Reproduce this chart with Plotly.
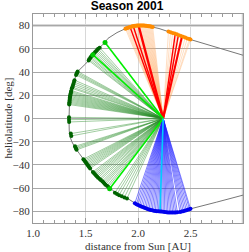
import plotly.graph_objects as go

# ---------------- data ----------------
orbit_x = [3.00, 2.70, 2.50, 2.40, 2.30, 2.20, 2.10, 2.02, 1.95, 1.886, 1.80, 1.714, 1.686,
           1.61, 1.53, 1.50, 1.42, 1.40, 1.385, 1.365, 1.35, 1.345, 1.343, 1.345, 1.35, 1.37,
           1.40, 1.44, 1.48, 1.52, 1.56, 1.61, 1.67, 1.73, 1.80, 1.905, 1.97, 2.05, 2.13,
           2.21, 2.30, 2.38, 2.44, 2.50, 2.75, 3.00]
orbit_lat = [54.5, 62.5, 68, 71.5, 74.5, 77.5, 79.5, 80.2, 79.5, 77.6, 74, 69, 65.5,
             59, 50, 47, 40, 35, 30, 25, 20, 10, 0, -10, -15, -20,
             -25, -30, -35, -40, -45, -50, -55, -60, -65, -69, -73, -76.5, -79,
             -80, -81, -80.8, -79.5, -77.8, -72, -66]

focus_x = [2.24]
focus_lat = [0.0]

# dark green group
green_x = [1.635, 1.62, 1.61, 1.60, 1.59, 1.58, 1.57, 1.56, 1.55, 1.545, 1.535, 1.53,
           1.425, 1.42, 1.415, 1.41,
           1.395, 1.39, 1.385, 1.38, 1.375, 1.37,
           1.365, 1.362, 1.36, 1.357, 1.355, 1.353, 1.351, 1.35, 1.349, 1.348, 1.347, 1.346, 1.345,
           1.343, 1.343, 1.344,
           1.36, 1.365,
           1.40, 1.405, 1.41, 1.415,
           1.48, 1.488, 1.496, 1.504, 1.512, 1.52, 1.528, 1.536, 1.544,
           1.57, 1.58, 1.59, 1.60, 1.61, 1.62, 1.635, 1.645, 1.66, 1.67, 1.68, 1.69, 1.705, 1.717,
           1.78, 1.80, 1.82, 1.845, 1.87, 1.895]
green_lat = [61, 60, 59, 58, 57, 56, 55, 54, 53, 52, 51, 50,
             40.5, 39.5, 38.5, 37.5,
             33, 31.5, 30, 28.5, 27, 26,
             24, 23, 22, 21, 20, 19, 18, 17, 16, 15, 14, 13, 12,
             1, -1, -3,
             -13, -15,
             -24, -25, -26, -27,
             -35, -36, -37, -38, -39, -40, -41, -42, -43,
             -46, -47, -48, -49, -50, -51, -52, -53, -54, -55, -56, -57, -58, -59,
             -64, -65, -66, -67, -68, -69]

# bright green
lime_x = [1.686, 1.57, 1.73]
lime_lat = [65.5, 55, -60.5]

# orange group
orange_x = [1.88, 1.89, 1.90, 1.91, 1.92, 1.93, 1.94, 1.95, 1.96, 1.97, 1.98, 1.99, 2.00,
            2.01, 2.02, 2.03, 2.04, 2.05, 2.06, 2.07, 2.08, 2.09, 2.10, 2.11, 2.12, 2.13, 2.14,
            2.29, 2.31, 2.33, 2.35, 2.37, 2.39, 2.41, 2.43, 2.45, 2.47, 2.49, 2.50]
orange_lat = [77.4, 77.7, 78.0, 78.3, 78.6, 78.9, 79.2, 79.4, 79.6, 79.8, 79.9, 80.0, 80.1,
              80.15, 80.2, 80.15, 80.1, 80.05, 80.0, 79.9, 79.8, 79.65, 79.5, 79.35, 79.2, 79.0, 78.8,
              75.0, 74.3, 73.7, 73.1, 72.5, 71.8, 71.1, 70.4, 69.7, 69.0, 68.4, 68.0]

# red
red_x = [1.925, 1.955, 2.005, 2.355, 2.385, 2.42]
red_lat = [78.7, 79.5, 80.1, 73.0, 72.1, 71.0]
red_w = [1.4, 1.4, 2.4, 1.4, 1.4, 2.0]

# blue group
blue_x = [1.97, 1.985, 2.00, 2.015, 2.03, 2.045, 2.06, 2.075, 2.09, 2.105, 2.12, 2.135,
          2.15, 2.165, 2.18, 2.195, 2.21, 2.225, 2.24, 2.255, 2.27, 2.285, 2.30, 2.315,
          2.33, 2.345, 2.36, 2.375,
          2.40, 2.415, 2.43, 2.445, 2.46, 2.475, 2.49, 2.50]
blue_lat = [-73, -73.8, -74.5, -75.1, -75.7, -76.3, -76.9, -77.4, -77.9, -78.3, -78.7, -79.1,
            -79.4, -79.6, -79.8, -79.9, -80, -80.2, -80.4, -80.6, -80.8, -80.9, -81, -81,
            -81, -80.9, -80.9, -80.8,
            -80.5, -80.2, -79.8, -79.4, -79, -78.5, -78.1, -77.8]

# cyan
cyan_x = [2.21]
cyan_lat = [-80]

x_ticks = [1.0, 1.5, 2.0, 2.5, 3.0]
x_ticktext = ["1.0", "1.5", "2.0", "2.5", "3.0"]
y_ticks = [-80, -60, -40, -20, 0, 20, 40, 60, 80]


def fan(xs, ys):
    lx, ly = [], []
    for a, b in zip(xs, ys):
        lx += [a, focus_x[0], None]
        ly += [b, focus_lat[0], None]
    return lx, ly


fig = go.Figure()

fig.add_trace(go.Scatter(x=orbit_x, y=orbit_lat, mode="lines",
                         line=dict(color="#777777", width=1), hoverinfo="skip"))

gx, gy = fan(green_x, green_lat)
fig.add_trace(go.Scatter(x=gx, y=gy, mode="lines",
                         line=dict(color="rgba(40,140,40,0.55)", width=0.8)))
ox, oy = fan(orange_x, orange_lat)
fig.add_trace(go.Scatter(x=ox, y=oy, mode="lines",
                         line=dict(color="rgba(255,165,90,0.45)", width=0.8)))
bx, by = fan(blue_x, blue_lat)
fig.add_trace(go.Scatter(x=bx, y=by, mode="lines",
                         line=dict(color="rgba(30,30,255,0.7)", width=0.8)))

for xs, ys, w in zip(red_x, red_lat, red_w):
    rx, ry = fan([xs], [ys])
    fig.add_trace(go.Scatter(x=rx, y=ry, mode="lines", line=dict(color="#ff0000", width=w)))

lx_, ly_ = fan(lime_x, lime_lat)
fig.add_trace(go.Scatter(x=lx_, y=ly_, mode="lines", line=dict(color="#00ee00", width=1.6)))
cx, cy = fan(cyan_x, cyan_lat)
fig.add_trace(go.Scatter(x=cx, y=cy, mode="lines", line=dict(color="#00ccff", width=1.6)))

fig.add_trace(go.Scatter(x=green_x, y=green_lat, mode="markers",
                         marker=dict(color="#006400", size=4)))
fig.add_trace(go.Scatter(x=lime_x, y=lime_lat, mode="markers",
                         marker=dict(color="#00cc00", size=5)))
fig.add_trace(go.Scatter(x=orange_x, y=orange_lat, mode="markers",
                         marker=dict(color="#ff8c00", size=4)))
fig.add_trace(go.Scatter(x=blue_x, y=blue_lat, mode="markers",
                         marker=dict(color="#0000ee", size=4)))

serif = "Liberation Serif, Times New Roman, serif"

fig.update_layout(
    width=249, height=252,
    margin=dict(l=33, r=6, t=14, b=29, autoexpand=False),
    paper_bgcolor="white", plot_bgcolor="white",
    showlegend=False,
    title=dict(text="<b>Season 2001</b>", x=0.51, xref="container", y=0.995, yref="container",
               yanchor="top", font=dict(family="Liberation Sans, Arial, sans-serif", size=12, color="black")),
    shapes=[
        dict(type="line", xref="paper", yref="y", x0=0, x1=1, y0=80, y1=80,
             line=dict(color="#d9d9d9", width=3), layer="below"),
        dict(type="line", xref="x", yref="paper", x0=3.0, x1=3.0, y0=0, y1=1,
             line=dict(color="#d0d0d0", width=2.5), layer="below"),
    ],
    annotations=[
        dict(text="distance from Sun [AU]", xref="paper", yref="paper", x=0.5, y=0,
             yanchor="top", yshift=-15, showarrow=False,
             font=dict(family=serif, size=11, color="#333333")),
        dict(text="heliolatitude [deg]", xref="paper", yref="paper", x=0, y=0.5,
             xanchor="center", xshift=-26, textangle=-90, showarrow=False,
             font=dict(family=serif, size=11, color="#333333")),
    ],
)

fig.update_xaxes(
    range=[1.0, 3.0], tickvals=x_ticks, ticktext=x_ticktext, automargin=False,
    showgrid=True, gridcolor="#d8d8d8", gridwidth=1,
    showline=True, linecolor="#999999", linewidth=1, mirror="ticks",
    ticks="inside", ticklen=5, tickcolor="#999999",
    minor=dict(ticks="inside", dtick=0.1, ticklen=3, tickcolor="#999999", showgrid=False),
    zeroline=False,
    tickfont=dict(family=serif, size=11, color="#333333"),
)
fig.update_yaxes(
    range=[-90, 90], tickvals=y_ticks, automargin=False,
    showgrid=True, gridcolor="#a8a8a8", gridwidth=1,
    showline=True, linecolor="#999999", linewidth=1, mirror=True,
    ticks="", zeroline=False,
    tickfont=dict(family=serif, size=11, color="#333333"),
)

fig.write_html("out.html", config={"displayModeBar": False},
               post_script="document.body.style.margin='0';document.body.style.overflow='hidden';")
